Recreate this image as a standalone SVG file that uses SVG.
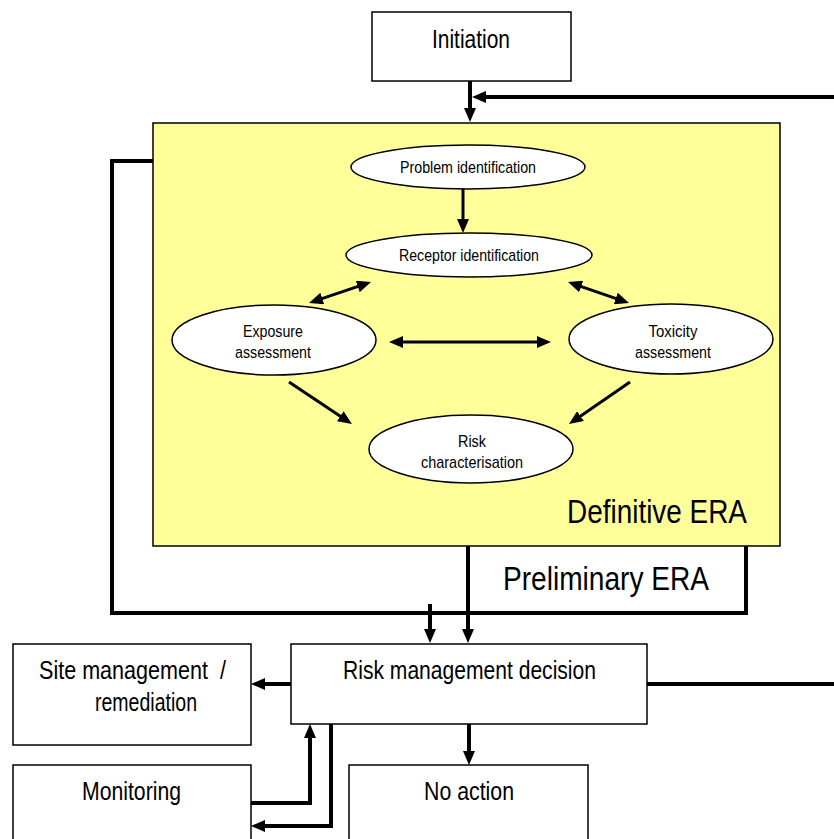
<svg xmlns="http://www.w3.org/2000/svg" width="834" height="839" viewBox="0 0 834 839">
<defs>
<style>
.box{fill:#fff;stroke:#000;stroke-width:1.5}
.era{fill:#ffff99;stroke:#000;stroke-width:1.5}
.ell{fill:#fff;stroke:#000;stroke-width:1.5}
.c{fill:none;stroke:#000;stroke-width:4}
.cs{fill:none;stroke:#000;stroke-width:3}
text{font-family:"Liberation Sans Narrow","Arial Narrow","Liberation Sans",Arial,sans-serif;fill:#000}
.t25{font-size:25px}
.t17{font-size:17px}
.t34{font-size:34px}
</style>
<marker id="ah" markerUnits="userSpaceOnUse" markerWidth="14" markerHeight="12" refX="9" refY="6" orient="auto-start-reverse" viewBox="0 0 14 12">
<path d="M0,0 L14,6 L0,12 z" fill="#000"/>
</marker>
</defs>

<g id="initiation">
<rect class="box" x="372" y="12" width="199" height="69"/>
<text class="t25" x="471" y="48" text-anchor="middle" textLength="78" lengthAdjust="spacingAndGlyphs">Initiation</text>
</g>

<g id="definitive-era">
<rect class="era" x="153" y="123" width="627" height="423"/>
<text class="t34" x="567" y="523" textLength="180" lengthAdjust="spacingAndGlyphs">Definitive ERA</text>
</g>

<g id="preliminary-era">
<text class="t34" x="503" y="590" textLength="206" lengthAdjust="spacingAndGlyphs">Preliminary ERA</text>
</g>

<g id="problem-identification">
<ellipse class="ell" cx="468" cy="167" rx="117" ry="22"/>
<text class="t17" x="468" y="173" text-anchor="middle" textLength="136" lengthAdjust="spacingAndGlyphs">Problem identification</text>
</g>

<g id="receptor-identification">
<ellipse class="ell" cx="469" cy="255" rx="123" ry="22"/>
<text class="t17" x="469" y="261" text-anchor="middle" textLength="140" lengthAdjust="spacingAndGlyphs">Receptor identification</text>
</g>

<g id="exposure-assessment">
<ellipse class="ell" cx="274" cy="340" rx="102" ry="35"/>
<text class="t17" x="273" y="337" text-anchor="middle" textLength="60" lengthAdjust="spacingAndGlyphs">Exposure</text>
<text class="t17" x="273" y="358" text-anchor="middle" textLength="76" lengthAdjust="spacingAndGlyphs">assessment</text>
</g>

<g id="toxicity-assessment">
<ellipse class="ell" cx="671" cy="339" rx="102" ry="35"/>
<text class="t17" x="673" y="337" text-anchor="middle" textLength="49" lengthAdjust="spacingAndGlyphs">Toxicity</text>
<text class="t17" x="673" y="358" text-anchor="middle" textLength="76" lengthAdjust="spacingAndGlyphs">assessment</text>
</g>

<g id="risk-characterisation">
<ellipse class="ell" cx="471" cy="449" rx="102" ry="34"/>
<text class="t17" x="472" y="447" text-anchor="middle" textLength="28" lengthAdjust="spacingAndGlyphs">Risk</text>
<text class="t17" x="472" y="468" text-anchor="middle" textLength="102" lengthAdjust="spacingAndGlyphs">characterisation</text>
</g>

<g id="risk-management-decision">
<rect class="box" x="291" y="644" width="356" height="80"/>
<text class="t25" x="343" y="679" textLength="253" lengthAdjust="spacingAndGlyphs">Risk management decision</text>
</g>

<g id="site-management">
<rect class="box" x="13" y="644" width="238" height="101"/>
<text class="t25" x="39" y="679" xml:space="preserve" textLength="187" lengthAdjust="spacingAndGlyphs">Site management  /</text>
<text class="t25" x="146" y="711" text-anchor="middle" textLength="102" lengthAdjust="spacingAndGlyphs">remediation</text>
</g>

<g id="monitoring">
<rect class="box" x="13" y="765" width="238" height="80"/>
<text class="t25" x="82" y="800" textLength="99" lengthAdjust="spacingAndGlyphs">Monitoring</text>
</g>

<g id="no-action">
<rect class="box" x="349" y="765" width="239" height="80"/>
<text class="t25" x="424" y="800" textLength="90" lengthAdjust="spacingAndGlyphs">No action</text>
</g>

<g id="connectors">
<line class="c" x1="470" y1="81" x2="470" y2="117" marker-end="url(#ah)"/>
<line class="c" x1="834" y1="97" x2="477" y2="97" marker-end="url(#ah)"/>
<line class="cs" x1="463" y1="189" x2="463" y2="228" marker-end="url(#ah)"/>
<line class="cs" x1="313.7" y1="301.4" x2="366.3" y2="283.6" marker-start="url(#ah)" marker-end="url(#ah)"/>
<line class="cs" x1="572.7" y1="283.6" x2="624.3" y2="301.4" marker-start="url(#ah)" marker-end="url(#ah)"/>
<line class="cs" x1="394" y1="342" x2="546" y2="342" marker-start="url(#ah)" marker-end="url(#ah)"/>
<line class="cs" x1="289" y1="382" x2="347.8" y2="421.2" marker-end="url(#ah)"/>
<line class="cs" x1="630" y1="382" x2="573.1" y2="421.2" marker-end="url(#ah)"/>
<polyline class="c" points="153,161 112,161 112,613 746,613 746,546"/>
<line class="c" x1="430" y1="604" x2="430" y2="638" marker-end="url(#ah)"/>
<line class="c" x1="468" y1="546" x2="468" y2="638" marker-end="url(#ah)"/>
<line class="c" x1="647" y1="684" x2="834" y2="684"/>
<line class="c" x1="291" y1="684" x2="256" y2="684" marker-end="url(#ah)"/>
<line class="c" x1="469" y1="724" x2="469" y2="760" marker-end="url(#ah)"/>
<polyline class="c" points="251,803 310,803 310,729" marker-end="url(#ah)"/>
<polyline class="c" points="331,724 331,826 256,826" marker-end="url(#ah)"/>
</g>
</svg>
